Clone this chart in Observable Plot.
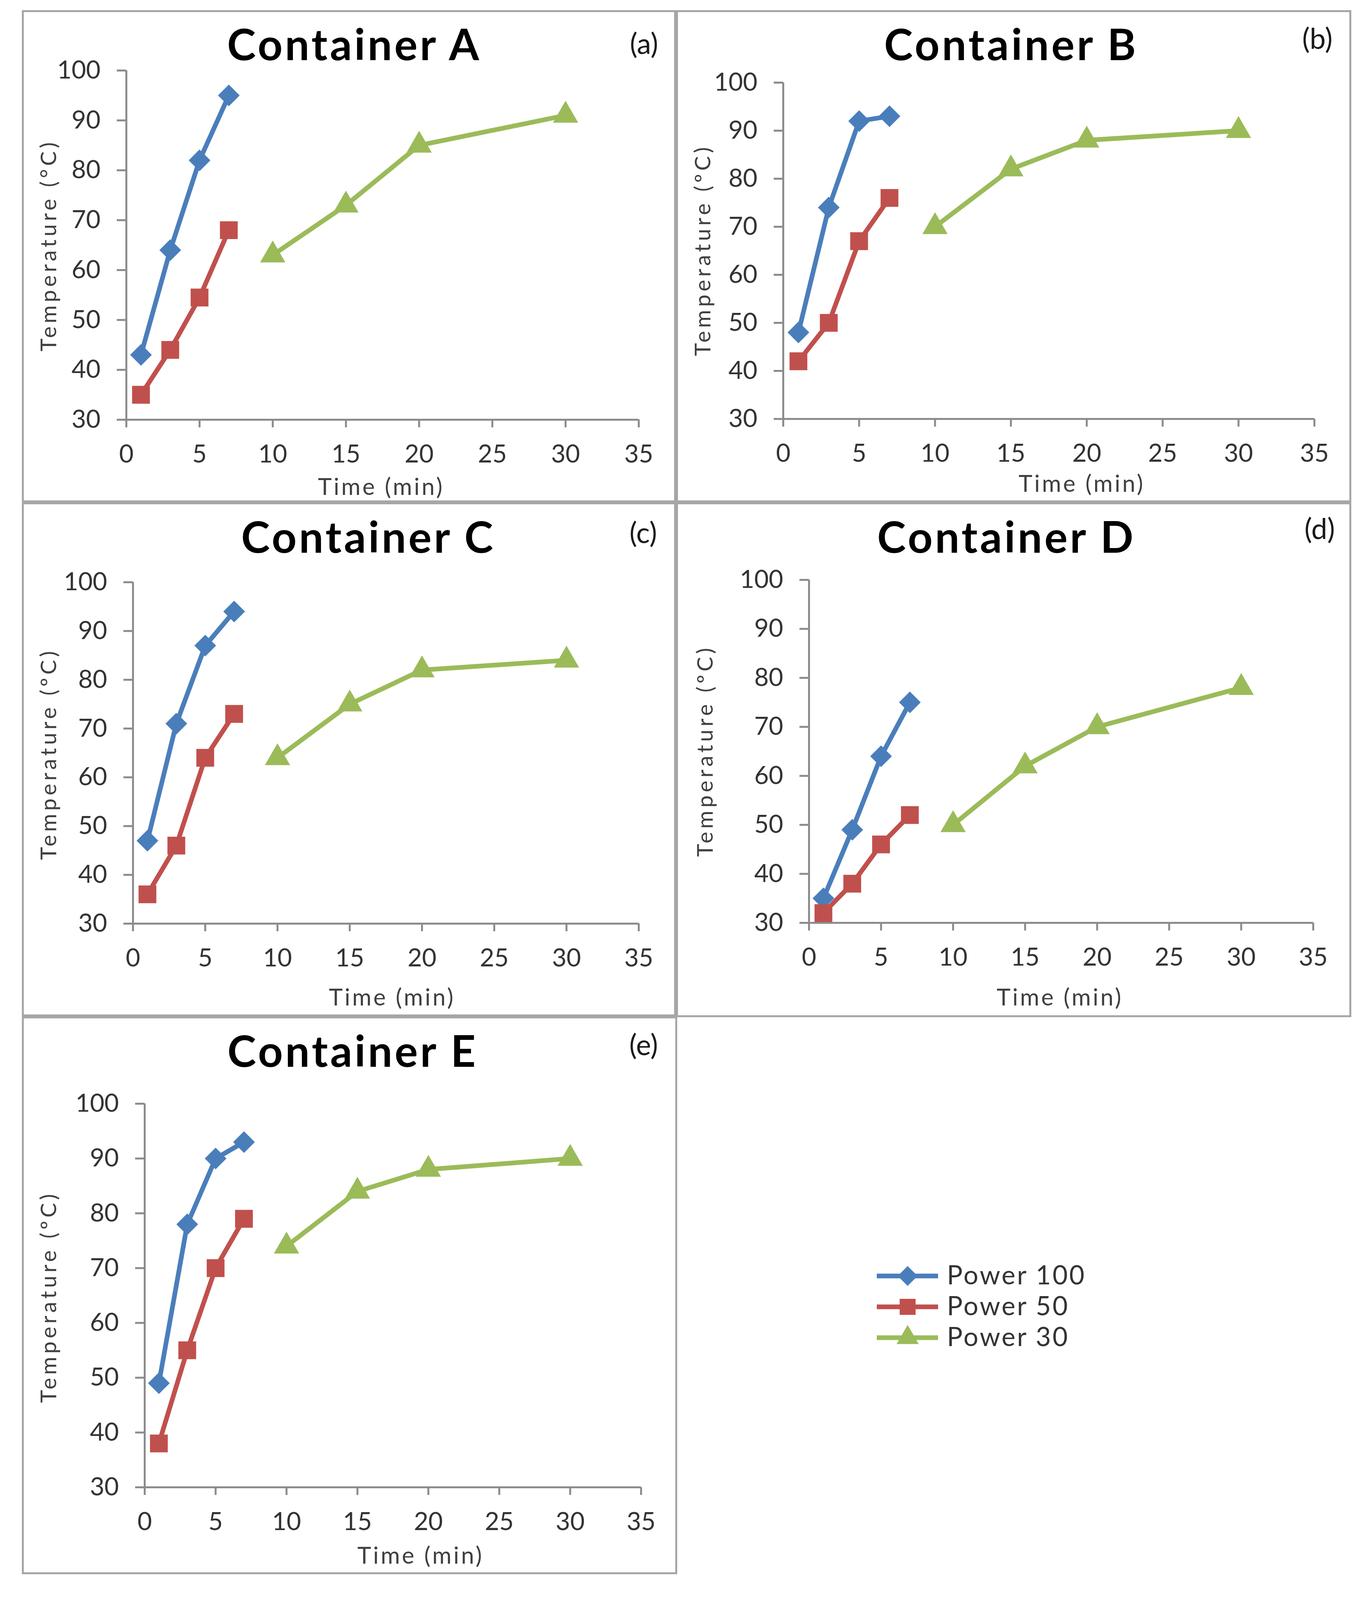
<!DOCTYPE html>
<html>
<head>
<meta charset="utf-8">
<script src="https://cdn.jsdelivr.net/npm/d3@7"></script>
<script src="https://cdn.jsdelivr.net/npm/@observablehq/plot@0.6"></script>
<style>
  html, body { margin: 0; padding: 0; background: #fff; font-family: Lato, "Open Sans", sans-serif; overflow: hidden; }
  #page { position: relative; width: 3513px; overflow: hidden; }
  .box { position: absolute; box-sizing: border-box; border: 5px solid #a6a6a6; }
  .plot { position: absolute; }
  .lbl { position: absolute; transform: translate(-50%, -50%); white-space: nowrap; line-height: 1; }
  .title { font-weight: 700; color: #000; }
  .tag { color: #1a1a1a; }
  .xlab { color: #404040; }
  .ylab { color: #404040; transform: translate(-50%, -50%) rotate(-90deg); }
</style>
</head>
<body>
<div id="page"></div>
<script>
  // series and time points
  const series = ['Power 100', 'Power 50', 'Power 30']
  const times100 = [1, 3, 5, 7]
  const times50 = [1, 3, 5, 7]
  const times30 = [10, 15, 20, 30]

  // temperatures (ºC), one row per container A..E
  const containers = ['Container A', 'Container B', 'Container C', 'Container D', 'Container E']
  const tags = ['(a)', '(b)', '(c)', '(d)', '(e)']
  const power100 = [
    [43, 64, 82, 95],
    [48, 74, 92, 93],
    [47, 71, 87, 94],
    [35, 49, 64, 75],
    [49, 78, 90, 93],
  ]
  const power50 = [
    [35, 44, 54.5, 68],
    [42, 50, 67, 76],
    [36, 46, 64, 73],
    [32, 38, 46, 52],
    [38, 55, 70, 79],
  ]
  const power30 = [
    [63, 73, 85, 91],
    [70, 82, 88, 90],
    [64, 75, 82, 84],
    [50, 62, 70, 78],
    [74, 84, 88, 90],
  ]

  const xTicks = [0, 5, 10, 15, 20, 25, 30, 35]
  const yTicks = [30, 40, 50, 60, 70, 80, 90, 100]

  const colors = ['#4a7ebb', '#c0504d', '#9bbb59']
  const symbols = ['diamond2', 'square2', 'triangle']
  const radii = [28, 32, 26]
  const axisGray = '#8c8c8c'

  // the window may be shorter than the 4997px design: squeeze vertical positions to fit
  const sy = Math.min(1, window.innerHeight / 4997)
  const fs = (1 + sy) / 2
  const Y = v => Math.round(v * sy)
  const F = v => Math.round(v * fs)

  // page layout of each panel (box, plot frame, label spots), in 3513x4997 design pixels
  const layout = [
    { box: [56, 32, 1731, 1569], frame: [323, 1635, 220, 1310], title: [907, 136], tag: [1649, 134], xlab: [976, 1518], ylab: [123, 766], deg: '°' },
    { box: [1731, 32, 3460, 1569], frame: [2005, 3365, 257, 1308], title: [2589, 136], tag: [3373, 118], xlab: [2770, 1508], ylab: [1798, 781], deg: 'º' },
    { box: [56, 1569, 1731, 3174], frame: [340, 1635, 1818, 2884], title: [943, 1674], tag: [1647, 1661], xlab: [1004, 3112], ylab: [123, 2355], deg: 'º' },
    { box: [1731, 1569, 3460, 3177], frame: [2071, 3362, 1811, 2882], title: [2577, 1674], tag: [3379, 1650], xlab: [2714, 3112], ylab: [1804, 2345], deg: 'º' },
    { box: [56, 3174, 1734, 4917], frame: [370, 1641, 3447, 4645], title: [903, 3279], tag: [1648, 3261], xlab: [1077, 4855], ylab: [123, 4050], deg: 'º' },
  ]

  const page = d3.select('#page').style('height', Y(4997) + 'px')

  function label(cls, pos, text, size, spacing) {
    page.append('div').attr('class', 'lbl ' + cls)
      .style('left', pos[0] + 'px').style('top', Y(pos[1]) + 'px')
      .style('font-size', F(size) + 'px').style('letter-spacing', spacing + 'px')
      .text(text)
  }

  containers.forEach((name, i) => {
    const L = layout[i]
    const [left, top, right, bottom] = L.box
    const [x0, x35, y100, y30] = L.frame

    page.append('div').attr('class', 'box')
      .style('left', left + 'px').style('top', Y(top) + 'px')
      .style('width', right - left + 'px').style('height', Y(bottom) - Y(top) + 'px')

    const rows = []
    times100.forEach((t, j) => rows.push({ series: series[0], time: t, temp: power100[i][j] }))
    times50.forEach((t, j) => rows.push({ series: series[1], time: t, temp: power50[i][j] }))
    times30.forEach((t, j) => rows.push({ series: series[2], time: t, temp: power30[i][j] }))

    const chart = Plot.plot({
      width: right - left,
      height: Y(bottom) - Y(top),
      marginLeft: x0 - left,
      marginRight: right - x35,
      marginTop: Y(y100) - Y(top),
      marginBottom: Y(bottom) - Y(y30),
      x: { domain: [0, 35] },
      y: { domain: [30, 100] },
      color: { domain: series, range: colors },
      style: { fontFamily: 'Lato, sans-serif', background: 'transparent', overflow: 'visible' },
      marks: [
        Plot.ruleY([30], { x1: () => 0, x2: () => 35, stroke: axisGray, strokeWidth: 5 }),
        Plot.ruleX([0], { y1: () => 30, y2: () => 100, stroke: axisGray, strokeWidth: 5 }),
        Plot.axisX(xTicks, {
          tickSize: Y(24), tickPadding: Y(54), stroke: axisGray, strokeWidth: 5,
          color: '#333', fontSize: F(70), label: null,
        }),
        Plot.axisY(yTicks, {
          tickSize: 24, tickPadding: 42, stroke: axisGray, strokeWidth: 5,
          color: '#333', fontSize: F(70), label: null,
        }),
        Plot.line(rows, { x: 'time', y: 'temp', z: 'series', stroke: 'series', strokeWidth: 12 }),
        ...series.map((s, k) =>
          Plot.dot(rows.filter(d => d.series === s), {
            x: 'time', y: 'temp', symbol: symbols[k], r: F(radii[k]), fill: 'series', stroke: null,
          }),
        ),
      ],
    })

    page.append('div').attr('class', 'plot')
      .style('left', left + 'px').style('top', Y(top) + 'px')
      .style('width', right - left + 'px')
      .append(() => chart)

    label('title', L.title, name, 122, 6)
    label('tag', L.tag, tags[i], 80, 0)
    label('xlab', L.xlab, 'Time  (min)', 66, 5)
    label('ylab', L.ylab, 'Temperature  (' + L.deg + 'C)', 62, 8)
  })

  // legend, drawn with its own small plot
  const legend = Plot.plot({
    width: 900,
    height: Y(520),
    x: { domain: [0, 1], range: [45, 202] },
    y: { type: 'point', domain: series, range: [Y(135), Y(425)] },
    color: { domain: series, range: colors },
    axis: null,
    style: { fontFamily: 'Lato, sans-serif', background: 'transparent', overflow: 'visible', letterSpacing: '4px' },
    marks: [
      Plot.ruleY(series, { y: d => d, x1: () => 0, x2: () => 1, stroke: d => d, strokeWidth: 12 }),
      ...series.map((s, k) =>
        Plot.dot([s], { x: () => 0.5, y: d => d, symbol: symbols[k], r: F(radii[k] * 0.9), fill: d => d, stroke: null }),
      ),
      Plot.text(series, {
        x: () => 1, y: d => d, text: d => d, dx: 22, textAnchor: 'start',
        fontSize: F(74), fill: '#333',
      }),
    ],
  })

  page.append('div').attr('class', 'plot')
    .style('left', '2200px').style('top', Y(3800) + 'px').style('width', '900px')
    .append(() => legend)
</script>
</body>
</html>
